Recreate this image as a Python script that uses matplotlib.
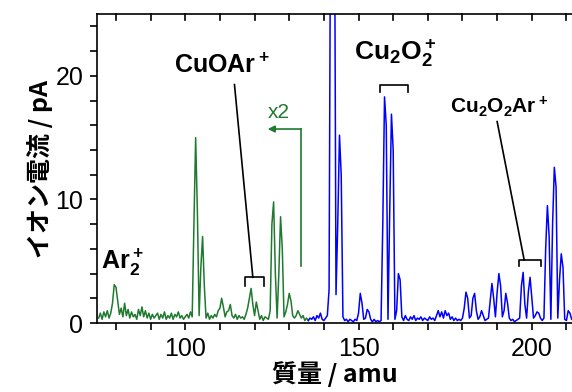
import numpy as np
import matplotlib
matplotlib.use("Agg")
import matplotlib.pyplot as plt
from matplotlib.ticker import MultipleLocator

plt.rcParams["font.family"] = ["Liberation Sans", "Noto Sans CJK JP"]
plt.rcParams["mathtext.fontset"] = "custom"
plt.rcParams["mathtext.rm"] = "Liberation Sans"
plt.rcParams["mathtext.bf"] = "Liberation Sans:bold"

# green trace (x2), mass 75.0 .. 135.5 amu in 0.5 steps
green_start = 75.0
green_y = [
    0.4, 0.8, 0.3, 0.9, 0.5, 1.0, 0.4, 0.8, 1.6, 3.1,
    2.9, 1.8, 0.7, 1.2, 0.5, 1.6, 0.6, 1.1, 0.4, 0.9,
    0.5, 0.7, 0.3, 1.1, 0.6, 1.3, 0.5, 1.0, 0.4, 0.8,
    0.3, 0.7, 0.4, 0.6, 0.8, 0.3, 0.7, 0.4, 0.9, 0.3,
    0.6, 0.4, 0.8, 0.3, 0.7, 0.5, 0.9, 0.4, 0.6, 0.3,
    0.5, 0.7, 0.4, 0.9, 0.5, 8.0, 15.0, 9.0, 0.6, 4.5,
    7.0, 3.0, 0.4, 0.8, 0.3, 0.6, 0.4, 0.7, 0.5, 1.0,
    1.2, 2.0, 1.3, 0.5, 0.9, 1.0, 1.5, 0.6, 0.4, 0.7,
    0.3, 0.6, 0.4, 0.5, 0.3, 0.7, 1.2, 2.0, 2.8, 1.5,
    0.6, 1.7, 1.0, 0.3, 0.6, 0.2, 0.5, 0.4, 0.3, 1.0,
    8.0, 9.8, 4.0, 0.4, 4.0, 8.6, 6.0, 0.5, 0.9, 1.5,
    2.4, 1.8, 0.6, 0.4, 0.6, 1.0, 0.7, 0.4, 0.6, 0.2,
    0.4, 0.2,
]

# blue trace, mass 135.5 .. 212.0 amu in 0.5 steps
blue_start = 135.5
blue_y = [
    0.2, 0.4, 0.3, 0.5, 0.2, 0.6, 0.4, 0.8, 0.3, 0.2,
    0.4, 0.6, 2.7, 40.0, 40.0, 40.0, 2.3, 8.0, 15.2, 12.0,
    0.5, 0.2, 0.3, 0.1, 0.3, 0.2, 0.1, 0.3, 0.2, 0.8,
    2.4, 1.6, 0.3, 0.4, 1.1, 0.9, 0.3, 0.1, 0.3, 0.1,
    0.2, 0.1, 0.2, 8.0, 18.3, 16.0, 0.3, 9.0, 16.9, 14.0,
    0.3, 1.0, 4.0, 3.5, 0.5, 0.2, 0.6, 0.3, 0.2, 0.5,
    0.3, 0.6, 0.2, 0.4, 0.3, 0.5, 0.2, 0.4, 0.3, 0.2,
    0.5, 0.3, 0.4, 0.2, 0.6, 1.0, 0.5, 0.9, 0.4, 1.0,
    0.6, 0.8, 0.3, 0.5, 0.2, 0.4, 0.2, 0.3, 0.2, 0.4,
    1.2, 2.5, 2.0, 0.4, 0.6, 2.0, 2.4, 1.0, 0.3, 0.5,
    1.0, 0.6, 0.2, 0.3, 0.4, 1.8, 3.2, 2.0, 0.5, 2.5,
    4.0, 3.0, 0.5, 1.0, 2.4, 1.6, 0.4, 0.2, 0.3, 0.1,
    0.2, 0.3, 0.4, 3.0, 4.1, 1.5, 0.4, 2.5, 3.7, 2.0,
    0.4, 0.6, 0.9, 0.8, 0.4, 0.2, 0.4, 6.0, 9.5, 7.0,
    0.3, 8.0, 12.6, 11.0, 0.4, 3.5, 5.6, 4.5, 0.3, 0.2,
    1.0, 0.8, 0.3, 0.2,
]

green_x = green_start + 0.5 * np.arange(len(green_y))
blue_x = blue_start + 0.5 * np.arange(len(blue_y))

green = "#1f7a30"
blue = "#0000ff"
cjk = ["Noto Sans CJK JP", "Liberation Sans"]

fig = plt.figure(figsize=(5.72, 3.92), dpi=100)
ax = fig.add_axes([0.17, 0.176, 0.83, 0.788])

ax.plot(green_x, green_y, color=green, lw=1.1)
ax.plot(blue_x, blue_y, color=blue, lw=1.1)

ax.set_xlim(74.6, 211.6)
ax.set_ylim(0, 25)

ax.xaxis.set_major_locator(MultipleLocator(50))
ax.xaxis.set_minor_locator(MultipleLocator(10))
ax.yaxis.set_major_locator(MultipleLocator(10))
ax.yaxis.set_minor_locator(MultipleLocator(2))
ax.tick_params(axis="both", which="both", direction="out", length=5, width=1.2,
               labelsize=18, pad=5, top=False, right=False)
ax.spines["right"].set_visible(False)
for s in ["left", "bottom", "top"]:
    ax.spines[s].set_linewidth(1.2)

# inward ticks along the top spine
for t in np.arange(80, 211, 10):
    ax.plot([t, t], [25, 24.5], color="black", lw=1.2, clip_on=False)

ax.set_xlabel("質量 / amu", fontsize=18, fontweight="bold", family=cjk, labelpad=0)
ax.set_ylabel("イオン電流 / pA", fontsize=18, fontweight="bold", family=cjk, labelpad=2)

# labels and brackets
ax.text(82, 4.9, r"$\mathbf{Ar_2^+}$", fontsize=18, ha="center", va="center")

ax.text(110.6, 20.8, r"$\mathbf{CuOAr^+}$", fontsize=18, ha="center", va="center")
ax.plot([117.2, 117.2, 122.8, 122.8], [3.0, 3.7, 3.7, 3.0], color="black", lw=1.2)
ax.plot([119.5, 114.2], [3.7, 19.3], color="black", lw=1.2)

ax.text(160.5, 21.8, r"$\mathbf{Cu_2O_2^+}$", fontsize=19, ha="center", va="center")
ax.plot([156.3, 156.3, 164.2, 164.2], [18.7, 19.3, 19.3, 18.7], color="black", lw=1.2)

ax.text(190.5, 17.5, r"$\mathbf{Cu_2O_2Ar^+}$", fontsize=15, ha="center", va="center")
ax.plot([196.3, 196.3, 202.6, 202.6], [4.6, 5.1, 5.1, 4.6], color="black", lw=1.2)
ax.plot([197.8, 190.0], [5.1, 16.3], color="black", lw=1.2)

# x2 marker
ax.plot([133.4, 133.4], [4.6, 15.7], color=green, lw=1.2)
ax.annotate("", xy=(123.8, 15.7), xytext=(133.5, 15.7),
            arrowprops=dict(arrowstyle="-|>", color=green, lw=1.2,
                            mutation_scale=10, shrinkA=0, shrinkB=0))
ax.text(127.0, 17.0, "x2", color=green, fontsize=15, ha="center", va="center")

fig.savefig("out.png", dpi=100)
